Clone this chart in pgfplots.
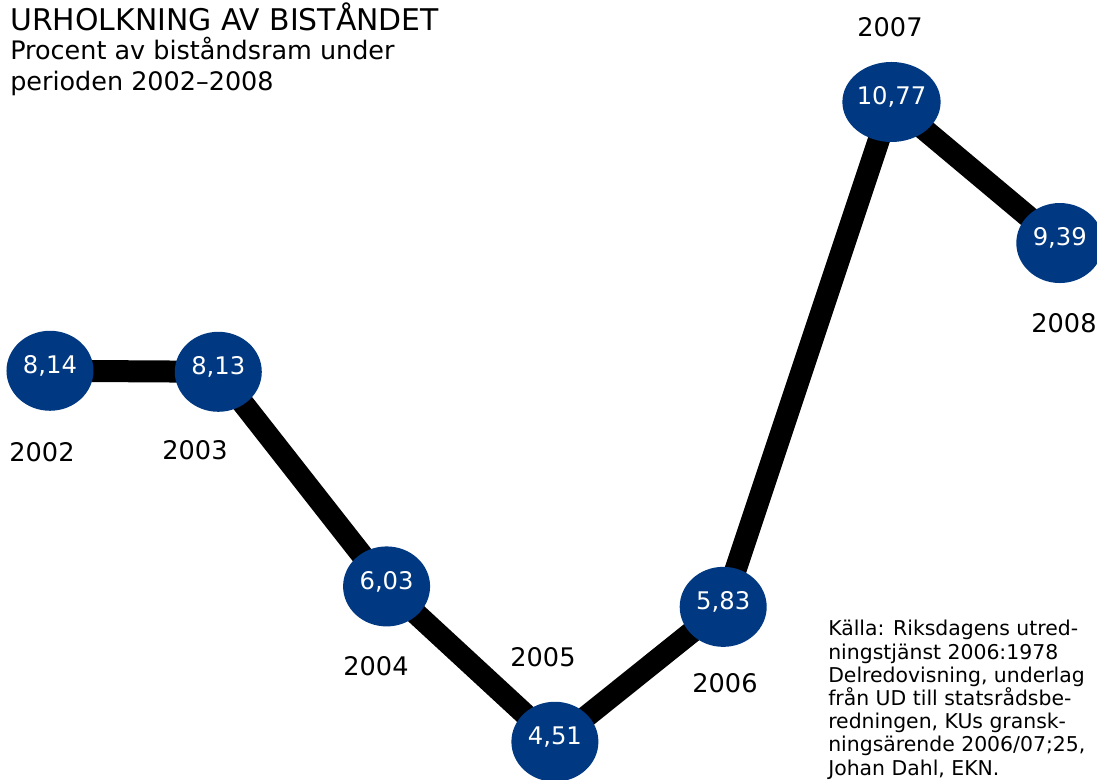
\documentclass[border=0pt]{standalone}
\usepackage{pgfplots}
\pgfplotsset{compat=1.18}
\usepackage{pgfplotstable}
\usepackage{fontspec}
\setmainfont{DejaVu Sans}
\usetikzlibrary{shapes.geometric}
\definecolor{aidblue}{RGB}{0,57,130}
\pgfplotstableread{
year val label
2002 8.14 8,14
2003 8.13 8,13
2004 6.03 6,03
2005 4.51 4,51
2006 5.83 5,83
2007 10.77 10,77
2008 9.39 9,39
}\aiddata
\begin{document}
\begin{tikzpicture}
\begin{axis}[
  scale only axis, width=822.75pt, height=585pt,
  xmin=2001.703, xmax=2008.221, ymin=4.136, ymax=11.768,
  hide axis, clip=false,
]
\addplot[black, line width=16.5pt, mark=none] table[x=year, y=val] {\aiddata};
\addplot[draw=none, mark=none,
  nodes near coords, point meta=explicit symbolic,
  nodes near coords style={ellipse, fill=aidblue, text=white, anchor=center,
    minimum width=65.25pt, minimum height=60pt, inner sep=0pt,
    text height=12pt, text depth=8pt,
    font=\fontsize{18.2pt}{20pt}\selectfont}]
  table[x=year, y=val, meta=label] {\aiddata};
% title
\node[anchor=base west, inner sep=0pt, font=\fontsize{22.4pt}{26pt}\selectfont]
  at (rel axis cs:0.00912,0.96026) {URHOLKNING AV BISTÅNDET};
\node[anchor=base west, inner sep=0pt, align=left, font=\fontsize{19.1pt}{23.25pt}\selectfont]
  at (rel axis cs:0.00912,0.88333) {Procent av biståndsram under\\perioden 2002–2008};
% year labels
\begin{scope}[every node/.style={anchor=center, inner sep=0pt, font=\fontsize{19.2pt}{22pt}\selectfont}]
\node at (rel axis cs:0.03829,0.42051) {2002};
\node at (rel axis cs:0.17776,0.42308) {2003};
\node at (rel axis cs:0.34275,0.14615) {2004};
\node at (rel axis cs:0.49499,0.15769) {2005};
\node at (rel axis cs:0.66089,0.12436) {2006};
\node at (rel axis cs:0.81130,0.96538) {2007};
\node at (rel axis cs:0.96992,0.58590) {2008};
\end{scope}
% source
\node[anchor=base west, inner sep=0pt, align=left, font=\fontsize{15.3pt}{17.4pt}\selectfont]
  at (rel axis cs:0.75479,0.0064) {Källa: Riksdagens utred-\\ningstjänst 2006:1978\\Delredovisning, underlag\\från UD till statsrådsbe-\\redningen, KUs gransk-\\ningsärende 2006/07;25,\\Johan Dahl, EKN.};
\end{axis}
\pgfresetboundingbox
\path (0,0) rectangle (822.75pt,585pt);
\end{tikzpicture}
\end{document}
